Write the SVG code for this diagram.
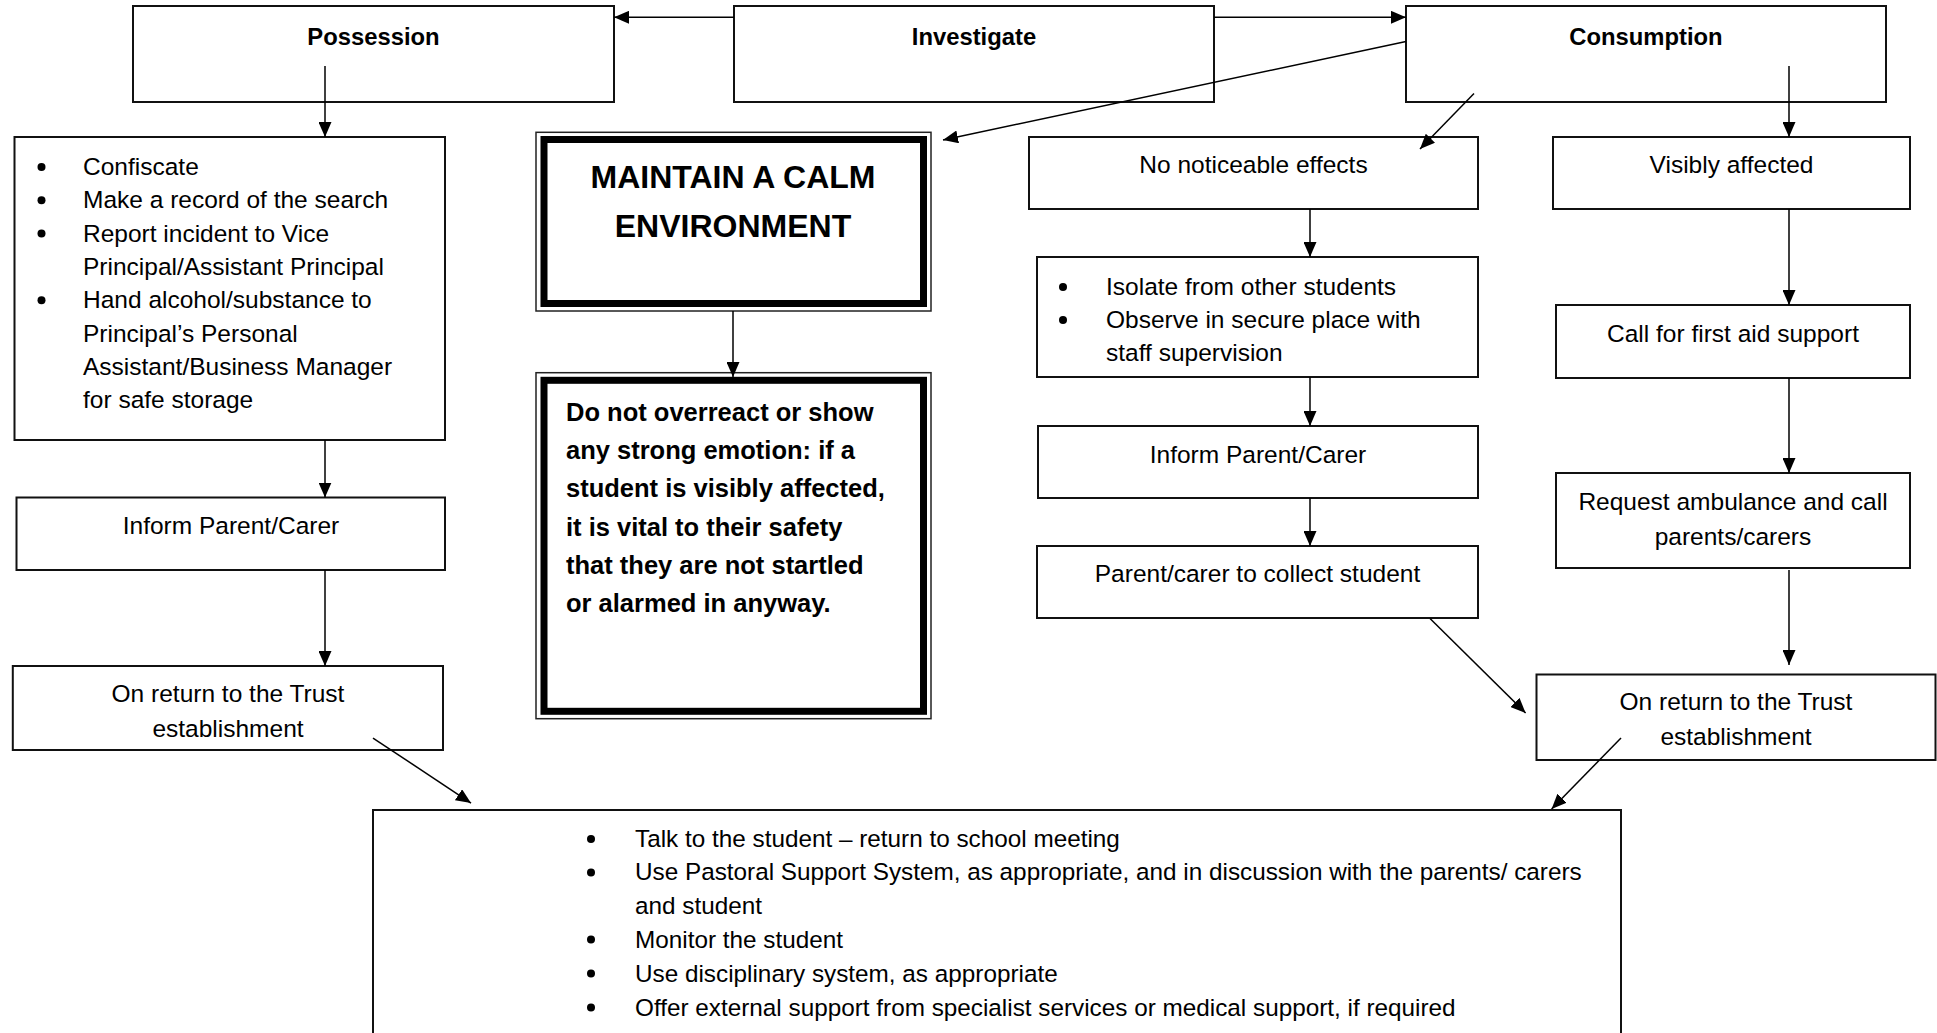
<svg xmlns="http://www.w3.org/2000/svg" width="1937" height="1033" viewBox="0 0 1937 1033">
<style>
  .box { fill: #fff; stroke: #111; stroke-width: 2; }
  .thin { fill: none; stroke: #222; stroke-width: 1.5; }
  .thick { fill: none; stroke: #000; stroke-width: 7; }
  .t { font-family: 'Liberation Sans', Arial, sans-serif; font-size: 24.5px; fill: #000; }
  .s { font-size: 24.3px; }
  .c { text-anchor: middle; }
  .h { font-family: 'Liberation Sans', Arial, sans-serif; font-size: 23.8px; font-weight: bold; fill: #000; text-anchor: middle; }
  .big { font-family: 'Liberation Sans', Arial, sans-serif; font-size: 32px; font-weight: bold; fill: #000; text-anchor: middle; }
  .bold { font-family: 'Liberation Sans', Arial, sans-serif; font-size: 25.5px; font-weight: bold; fill: #000; }
  .dot { fill: #000; }
  .conn line { stroke: #000; stroke-width: 1.5; marker-end: url(#arr); }
</style>
<defs>
  <marker id="arr" markerUnits="userSpaceOnUse" viewBox="0 0 15 13" refX="15" refY="6.5" markerWidth="15" markerHeight="13" orient="auto">
    <path d="M0,0 L15,6.5 L0,13 z" fill="#000"/>
  </marker>
</defs>
<rect width="1937" height="1033" fill="#fff"/>

<g id="possession">
  <rect class="box" x="133" y="6" width="481" height="96"/>
  <text class="h" x="373.5" y="45">Possession</text>
</g>
<g id="investigate">
  <rect class="box" x="734" y="6" width="480" height="96"/>
  <text class="h" x="974" y="45">Investigate</text>
</g>
<g id="consumption">
  <rect class="box" x="1406" y="6" width="480" height="96"/>
  <text class="h" x="1646" y="45">Consumption</text>
</g>

<g id="confiscate">
  <rect class="box" x="14.5" y="137" width="430.5" height="303"/>
  <circle class="dot" cx="41.5" cy="167" r="4"/>
  <circle class="dot" cx="41.5" cy="200.3" r="4"/>
  <circle class="dot" cx="41.5" cy="233.6" r="4"/>
  <circle class="dot" cx="41.5" cy="300.3" r="4"/>
  <text class="t" x="83" y="175">Confiscate</text>
  <text class="t" x="83" y="208.3">Make a record of the search</text>
  <text class="t" x="83" y="241.6">Report incident to Vice</text>
  <text class="t" x="83" y="275">Principal/Assistant Principal</text>
  <text class="t" x="83" y="308.3">Hand alcohol/substance to</text>
  <text class="t" x="83" y="341.6">Principal’s Personal</text>
  <text class="t" x="83" y="375">Assistant/Business Manager</text>
  <text class="t" x="83" y="408.3">for safe storage</text>
</g>

<g id="inform-left">
  <rect class="box" x="16.5" y="497.5" width="428.5" height="72.5"/>
  <text class="t c" x="231" y="534">Inform Parent/Carer</text>
</g>

<g id="return-left">
  <rect class="box" x="12.8" y="666" width="430.2" height="84"/>
  <text class="t c" x="228" y="702">On return to the Trust</text>
  <text class="t c" x="228" y="737">establishment</text>
</g>

<g id="maintain">
  <rect class="thin" x="536" y="132.3" width="395" height="178.7"/>
  <rect class="thick" x="544" y="139.5" width="379.5" height="164"/>
  <text class="big" x="733" y="188">MAINTAIN A CALM</text>
  <text class="big" x="733" y="237">ENVIRONMENT</text>
</g>

<g id="donot">
  <rect class="thin" x="536" y="372.7" width="395" height="346"/>
  <rect class="thick" x="544" y="380.3" width="379.5" height="331"/>
  <text class="bold" x="566" y="421">Do not overreact or show</text>
  <text class="bold" x="566" y="459.2">any strong emotion: if a</text>
  <text class="bold" x="566" y="497.4">student is visibly affected,</text>
  <text class="bold" x="566" y="535.6">it is vital to their safety</text>
  <text class="bold" x="566" y="573.8">that they are not startled</text>
  <text class="bold" x="566" y="612">or alarmed in anyway.</text>
</g>

<g id="no-effects">
  <rect class="box" x="1029" y="137" width="449" height="72"/>
  <text class="t c" x="1253.5" y="173">No noticeable effects</text>
</g>

<g id="visibly">
  <rect class="box" x="1553" y="137" width="357" height="72"/>
  <text class="t c" x="1731.5" y="173">Visibly affected</text>
</g>

<g id="isolate">
  <rect class="box" x="1037" y="257" width="441" height="120"/>
  <circle class="dot" cx="1063" cy="287" r="4"/>
  <circle class="dot" cx="1063" cy="320" r="4"/>
  <text class="t" x="1106" y="295">Isolate from other students</text>
  <text class="t" x="1106" y="328">Observe in secure place with</text>
  <text class="t" x="1106" y="361">staff supervision</text>
</g>

<g id="first-aid">
  <rect class="box" x="1556" y="305" width="354" height="73"/>
  <text class="t c" x="1733" y="342">Call for first aid support</text>
</g>

<g id="inform-right">
  <rect class="box" x="1038" y="426" width="440" height="72"/>
  <text class="t c" x="1258" y="462.5">Inform Parent/Carer</text>
</g>

<g id="collect">
  <rect class="box" x="1037" y="546" width="441" height="72"/>
  <text class="t c" x="1257.5" y="582">Parent/carer to collect student</text>
</g>

<g id="ambulance">
  <rect class="box" x="1556" y="473" width="354" height="95"/>
  <text class="t c" x="1733" y="510">Request ambulance and call</text>
  <text class="t c" x="1733" y="545">parents/carers</text>
</g>

<g id="return-right">
  <rect class="box" x="1536.5" y="674.5" width="399" height="85.5"/>
  <text class="t c" x="1736" y="710">On return to the Trust</text>
  <text class="t c" x="1736" y="744.5">establishment</text>
</g>

<g id="follow-up">
  <rect class="box" x="373" y="810" width="1248" height="240"/>
  <circle class="dot" cx="591" cy="839" r="4"/>
  <circle class="dot" cx="591" cy="872.5" r="4"/>
  <circle class="dot" cx="591" cy="939.5" r="4"/>
  <circle class="dot" cx="591" cy="973.5" r="4"/>
  <circle class="dot" cx="591" cy="1007.5" r="4"/>
  <text class="t s" x="635" y="846.7">Talk to the student – return to school meeting</text>
  <text class="t s" x="635" y="880.3">Use Pastoral Support System, as appropriate, and in discussion with the parents/ carers</text>
  <text class="t s" x="635" y="913.5">and student</text>
  <text class="t s" x="635" y="947.5">Monitor the student</text>
  <text class="t s" x="635" y="981.5">Use disciplinary system, as appropriate</text>
  <text class="t s" x="635" y="1015.5">Offer external support from specialist services or medical support, if required</text>
</g>

<g id="connectors" class="conn">
  <line x1="734" y1="17.3" x2="614" y2="17.3"/>
  <line x1="1214" y1="17.3" x2="1406" y2="17.3"/>
  <line x1="325" y1="66" x2="325" y2="137"/>
  <line x1="1406" y1="41.5" x2="943" y2="140"/>
  <line x1="1474" y1="93.5" x2="1420" y2="149"/>
  <line x1="1789" y1="66" x2="1789" y2="137"/>
  <line x1="325" y1="440" x2="325" y2="497.5"/>
  <line x1="325" y1="570" x2="325" y2="666"/>
  <line x1="373" y1="738" x2="471" y2="803"/>
  <line x1="733" y1="311" x2="733" y2="377"/>
  <line x1="1310" y1="209" x2="1310" y2="257"/>
  <line x1="1310" y1="377" x2="1310" y2="426"/>
  <line x1="1310" y1="498" x2="1310" y2="546"/>
  <line x1="1430" y1="618.5" x2="1525.6" y2="713"/>
  <line x1="1789" y1="209" x2="1789" y2="305"/>
  <line x1="1789" y1="378" x2="1789" y2="473"/>
  <line x1="1789" y1="570" x2="1789" y2="665"/>
  <line x1="1621" y1="738" x2="1551.6" y2="809"/>
</g>
</svg>
